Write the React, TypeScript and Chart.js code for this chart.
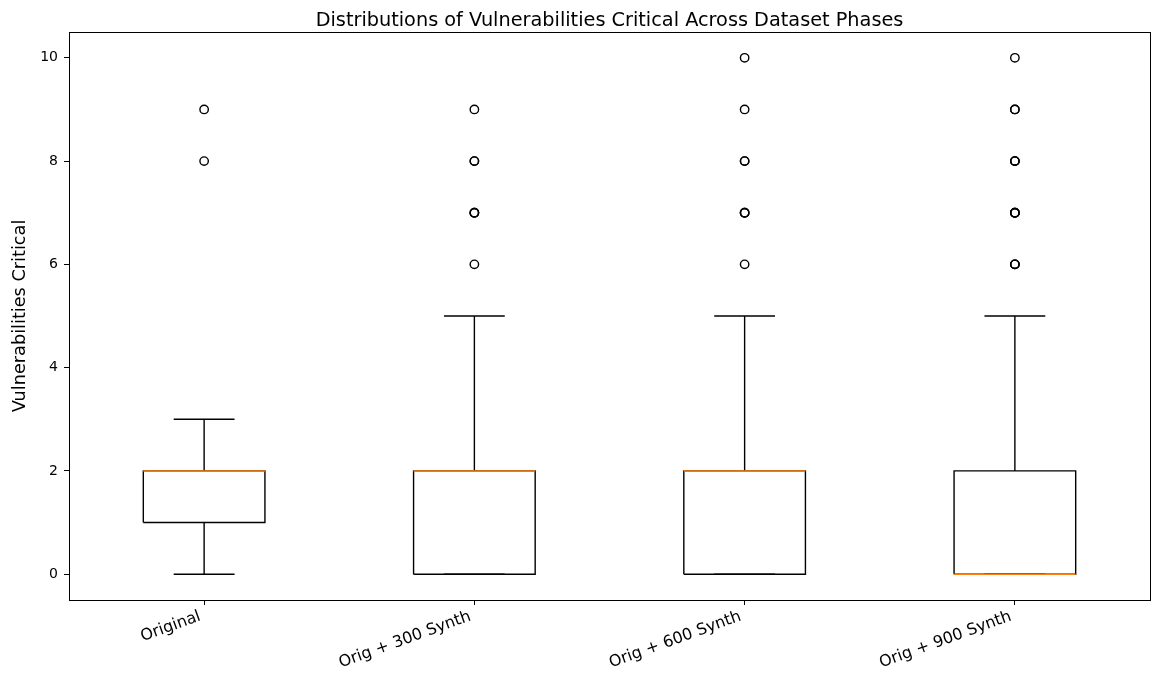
import React, { useEffect, useRef } from "react";
import { Chart, registerables } from "chart.js";

Chart.register(...registerables);

const categories = ["Original", "Orig + 300 Synth", "Orig + 600 Synth", "Orig + 900 Synth"];
const whiskerLow = [0, 0, 0, 0];
const q1 = [1, 0, 0, 0];
const medians = [2, 2, 2, 0];
const q3 = [2, 2, 2, 2];
const whiskerHigh = [3, 5, 5, 5];
const outliersOriginal = [8, 9];
const outliers300 = [6, 7, 7, 7, 8, 8, 9];
const outliers600 = [6, 7, 7, 7, 8, 8, 9, 10];
const outliers900 = [6, 6, 6, 7, 7, 7, 7, 8, 8, 8, 9, 9, 10];
const outliers = [outliersOriginal, outliers300, outliers600, outliers900];
const yTicks = [0, 2, 4, 6, 8, 10];
const titleText = "Distributions of Vulnerabilities Critical Across Dataset Phases";

const BOX_HALF = 0.225;
const CAP_HALF = 0.1125;
const FONT = "'DejaVu Sans', sans-serif";
const LW = 1.4;

function buildDatasets() {
  const ds: any[] = [];
  const lineBase = {
    showLine: true,
    pointRadius: 0,
    pointHoverRadius: 0,
    borderColor: "#000000",
    borderWidth: LW,
    fill: false,
    tension: 0,
  };
  categories.forEach((_, i) => {
    const p = i + 1;
    ds.push({ ...lineBase, order: 4, data: [{ x: p, y: q1[i] }, { x: p, y: whiskerLow[i] }] });
    ds.push({ ...lineBase, order: 4, data: [{ x: p, y: q3[i] }, { x: p, y: whiskerHigh[i] }] });
    ds.push({ ...lineBase, order: 3, data: [{ x: p - CAP_HALF, y: whiskerLow[i] }, { x: p + CAP_HALF, y: whiskerLow[i] }] });
    ds.push({ ...lineBase, order: 3, data: [{ x: p - CAP_HALF, y: whiskerHigh[i] }, { x: p + CAP_HALF, y: whiskerHigh[i] }] });
    ds.push({
      ...lineBase,
      order: 2,
      data: [
        { x: p - BOX_HALF, y: q1[i] },
        { x: p + BOX_HALF, y: q1[i] },
        { x: p + BOX_HALF, y: q3[i] },
        { x: p - BOX_HALF, y: q3[i] },
        { x: p - BOX_HALF, y: q1[i] },
      ],
    });
    ds.push({
      ...lineBase,
      order: 1,
      borderColor: "#ff7f0e",
      borderWidth: 1.5,
      data: [{ x: p - BOX_HALF, y: medians[i] }, { x: p + BOX_HALF, y: medians[i] }],
    });
    ds.push({
      order: 0,
      showLine: false,
      pointStyle: "circle",
      pointRadius: 4.2,
      pointHoverRadius: 4.2,
      pointBorderWidth: 1.4,
      pointBorderColor: "#000000",
      pointBackgroundColor: "rgba(0,0,0,0)",
      borderColor: "#000000",
      backgroundColor: "rgba(0,0,0,0)",
      data: outliers[i].map((v) => ({ x: p, y: v })),
    });
  });
  return ds;
}

const frame = {
  id: "frame",
  afterDraw(chart: any) {
    const { ctx, chartArea } = chart;
    ctx.save();
    ctx.strokeStyle = "#000000";
    ctx.lineWidth = 1;
    ctx.strokeRect(
      Math.round(chartArea.left) + 0.5,
      Math.round(chartArea.top) + 0.5,
      Math.round(chartArea.right - chartArea.left),
      Math.round(chartArea.bottom - chartArea.top)
    );
    ctx.fillStyle = "#000000";
    ctx.font = `19.3px ${FONT}`;
    ctx.textAlign = "center";
    ctx.textBaseline = "alphabetic";
    ctx.fillText(titleText, (chartArea.left + chartArea.right) / 2, 25.5);
    ctx.restore();
  },
};

export default function App() {
  const ref = useRef<HTMLCanvasElement | null>(null);
  useEffect(() => {
    if (!ref.current) return;
    const chart = new Chart(ref.current, {
      type: "scatter",
      data: { datasets: buildDatasets() },
      plugins: [frame],
      options: {
        animation: false,
        responsive: false,
        maintainAspectRatio: false,
        layout: { autoPadding: false, padding: { left: 0, right: 2, top: 32, bottom: 0 } },
        plugins: {
          legend: { display: false },
          tooltip: { enabled: false },
          title: { display: false },
        },
        scales: {
          x: {
            type: "linear",
            min: 0.5,
            max: 4.5,
            afterBuildTicks(scale: any) {
              scale.ticks = categories.map((_, i) => ({ value: i + 1 }));
            },
            afterFit(scale: any) {
              scale.height = 76;
              scale.paddingLeft = 0;
              scale.paddingRight = 0;
            },
            ticks: {
              autoSkip: false,
              minRotation: 20,
              maxRotation: 20,
              color: "#000000",
              padding: 2,
              labelOffset: -4,
              font: { family: FONT, size: 16 },
              callback: (v: any) => categories[Math.round(Number(v)) - 1] ?? "",
            },
            grid: { display: true, drawOnChartArea: false, drawTicks: true, tickLength: 5, color: "#000000", tickWidth: 1 },
            border: { display: true, color: "#000000", width: 1 },
          },
          y: {
            type: "linear",
            min: -0.5,
            max: 10.5,
            afterBuildTicks(scale: any) {
              scale.ticks = yTicks.map((v) => ({ value: v }));
            },
            afterFit(scale: any) {
              scale.width = 69;
              scale.paddingTop = 0;
              scale.paddingBottom = 0;
            },
            title: {
              display: true,
              text: "Vulnerabilities Critical",
              color: "#000000",
              font: { family: FONT, size: 17.7 },
              padding: { top: 10, bottom: 0 },
            },
            ticks: {
              color: "#000000",
              padding: 6,
              font: { family: FONT, size: 14 },
            },
            grid: { display: true, drawOnChartArea: false, drawTicks: true, tickLength: 5, color: "#000000", tickWidth: 1 },
            border: { display: true, color: "#000000", width: 1 },
          },
        },
      },
    });
    return () => chart.destroy();
  }, []);
  return (
    <div style={{ position: "fixed", left: 0, top: 0, width: 1152, height: 676, background: "#ffffff" }}>
      <canvas ref={ref} width={1152} height={676} style={{ width: 1152, height: 676 }} />
    </div>
  );
}
